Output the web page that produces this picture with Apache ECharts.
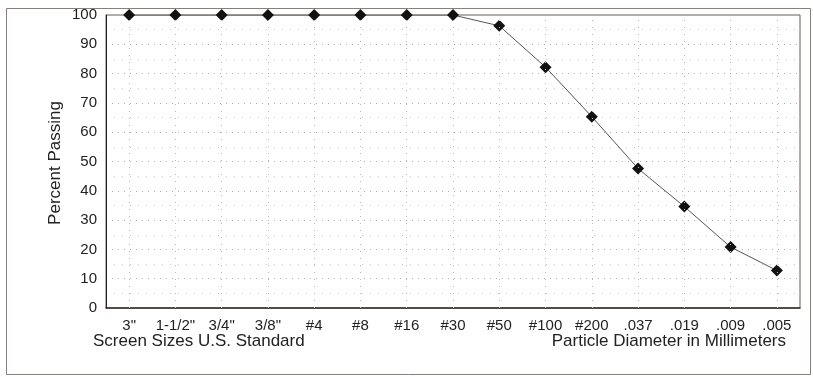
<!DOCTYPE html>
<html><head><meta charset="utf-8">
<script src="https://cdn.jsdelivr.net/npm/echarts@6/dist/echarts.min.js"></script>
<style>html,body{margin:0;padding:0;background:#fff}#c{width:813px;height:377px}</style>
</head><body><div id="c"></div>
<script>
const categories = ['3"', '1-1/2"', '3/4"', '3/8"', '#4', '#8', '#16', '#30', '#50', '#100', '#200', '.037', '.019', '.009', '.005'];
const percentPassing = [100, 100, 100, 100, 100, 100, 100, 100, 96.3, 82.2, 65.3, 47.6, 34.6, 20.8, 12.8];
const yTicks = [0, 10, 20, 30, 40, 50, 60, 70, 80, 90, 100];
const yTitle = 'Percent Passing';
const xTitleLeft = 'Screen Sizes U.S. Standard';
const xTitleRight = 'Particle Diameter in Millimeters';

const font = 'Liberation Sans, Arial, sans-serif';
const chart = echarts.init(document.getElementById('c'));
chart.setOption({
  animation: false,
  backgroundColor: '#fff',
  grid: { left: 106, right: 13, top: 15, bottom: 69, show: true, borderColor: '#6e5a50', borderWidth: 1 },
  xAxis: {
    type: 'category', data: categories, boundaryGap: true,
    axisLine: { lineStyle: { color: '#3a2a24', width: 1.5 } },
    axisTick: { show: false },
    axisLabel: { color: '#222', fontFamily: font, fontSize: 15, margin: 10, interval: 0 },
    splitLine: { show: false }
  },
  yAxis: {
    type: 'value', min: yTicks[0], max: yTicks[yTicks.length - 1], interval: 10,
    axisLine: { show: true, lineStyle: { color: '#222', width: 1 } },
    axisTick: { show: false },
    axisLabel: { color: '#222', fontFamily: font, fontSize: 15, margin: 9 },
    splitLine: { show: true, lineStyle: { color: '#b0b0b0', type: [1, 5], width: 1 } },
    minorSplitLine: { show: true, lineStyle: { color: '#c8c8c8', type: [1, 7], width: 1 } },
    minorTick: { show: false, splitNumber: 2 }
  },
  series: [{
    type: 'line', data: percentPassing, smooth: false,
    symbol: 'diamond', symbolSize: 12,
    itemStyle: { color: '#111' },
    lineStyle: { color: '#555', width: 1 },
    markLine: {
      silent: true, symbol: 'none', label: { show: false },
      lineStyle: { color: '#b8b8b8', type: [1, 6], width: 1 },
      data: categories.map(c => ({ xAxis: c }))
    },
    z: 3
  }],
  graphic: [
    { type: 'rect', left: 4, top: 6, shape: { width: 804, height: 366 }, style: { fill: 'none', stroke: '#8a7f78', lineWidth: 1 }, z: -1 },
    { type: 'text', x: 55, y: 163, rotation: Math.PI / 2, style: { text: yTitle, font: '17px ' + font, fill: '#222', align: 'center', verticalAlign: 'middle' } },
    { type: 'text', x: 93, y: 341, style: { text: xTitleLeft, font: '17px ' + font, fill: '#222', align: 'left', verticalAlign: 'middle' } },
    { type: 'text', x: 786, y: 341, style: { text: xTitleRight, font: '17px ' + font, fill: '#222', align: 'right', verticalAlign: 'middle' } }
  ]
});
</script></body></html>
